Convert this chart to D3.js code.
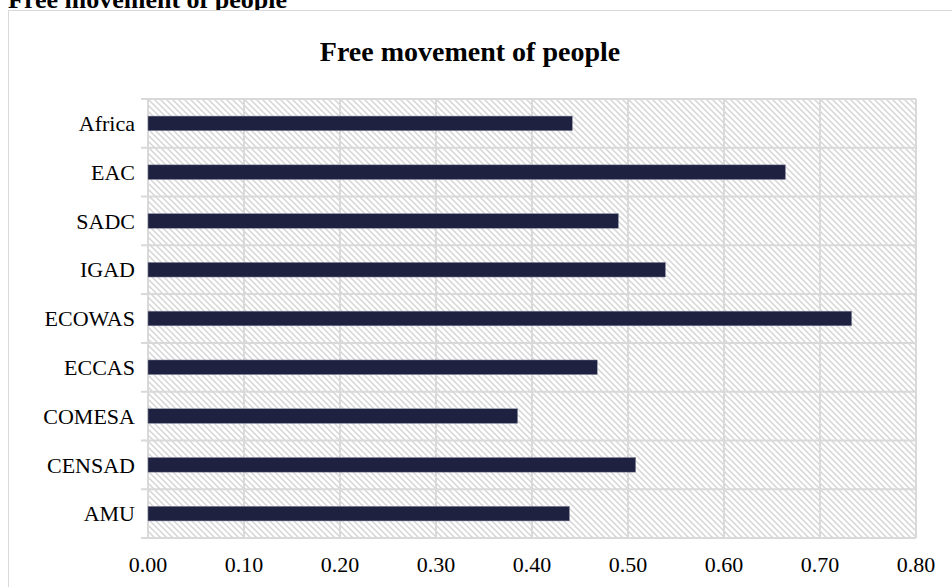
<!DOCTYPE html>
<html>
<head>
<meta charset="utf-8">
<script src="https://cdn.jsdelivr.net/npm/d3@7"></script>
<style>
  body { margin: 0; background: #fff; }
  text { font-family: "Liberation Serif", "Times New Roman", serif; }
</style>
</head>
<body>
<div id="chart"></div>
<script>
// values (top to bottom)
const categories = ["Africa", "EAC", "SADC", "IGAD", "ECOWAS", "ECCAS", "COMESA", "CENSAD", "AMU"];
const values = [0.442, 0.664, 0.490, 0.539, 0.733, 0.468, 0.385, 0.508, 0.439];
const xTicks = [0, 0.1, 0.2, 0.3, 0.4, 0.5, 0.6, 0.7, 0.8];

const W = 952, H = 587;
const margin = { top: 99, right: 36, bottom: 49, left: 148 },
    width = W - margin.left - margin.right,
    height = H - margin.top - margin.bottom;

const root = d3.select("#chart").append("svg")
    .attr("width", W)
    .attr("height", H);

// hatch pattern for the plot area
const defs = root.append("defs");
const pat = defs.append("pattern")
    .attr("id", "hatch")
    .attr("patternUnits", "userSpaceOnUse")
    .attr("width", 6).attr("height", 6);
pat.append("rect").attr("width", 6).attr("height", 6).attr("fill", "#fff");
pat.append("path")
    .attr("d", "M-1,-1 L7,7 M-1,5 L1,7 M5,-1 L7,1")
    .attr("stroke", "#d4d4d4")
    .attr("stroke-width", 1.4);

// cropped heading above chart
root.append("text")
    .attr("x", 8).attr("y", 8)
    .attr("font-size", "26px")
    .attr("font-weight", "bold")
    .text("Free movement of people");

// chart border
root.append("rect")
    .attr("x", 8.5).attr("y", 10.5)
    .attr("width", W).attr("height", H)
    .attr("fill", "#fff")
    .attr("stroke", "#d9d9d9")
    .attr("stroke-width", 1);

// chart title
root.append("text")
    .attr("x", 470).attr("y", 61)
    .attr("text-anchor", "middle")
    .attr("font-size", "28px")
    .attr("font-weight", "bold")
    .text("Free movement of people");

const svg = root.append("g")
    .attr("transform", `translate(${margin.left},${margin.top})`);

const x = d3.scaleLinear()
    .domain([0, 0.8])
    .range([0, width]);

const y = d3.scaleBand()
    .domain(categories)
    .range([0, height])
    .padding(0);

// plot background
svg.append("rect")
    .attr("width", width).attr("height", height)
    .attr("fill", "url(#hatch)");

// vertical gridlines
svg.append("g")
    .selectAll("line")
    .data(xTicks)
    .join("line")
    .attr("x1", d => x(d)).attr("x2", d => x(d))
    .attr("y1", 0).attr("y2", height)
    .attr("stroke", "#d9d9d9")
    .attr("stroke-width", 2);

// horizontal category boundaries with outside ticks
const bounds = categories.map(c => y(c)).concat([height]);
svg.append("g")
    .selectAll("line")
    .data(bounds)
    .join("line")
    .attr("x1", -7).attr("x2", width)
    .attr("y1", d => d).attr("y2", d => d)
    .attr("stroke", "#d9d9d9")
    .attr("stroke-width", 2);

// bars
const barH = y.bandwidth() * 0.3;
svg.append("g")
    .selectAll("rect")
    .data(categories.map((c, i) => ({ cat: c, value: values[i] })))
    .join("rect")
    .attr("x", 0)
    .attr("y", d => y(d.cat) + (y.bandwidth() - barH) / 2)
    .attr("width", d => x(d.value))
    .attr("height", barH)
    .attr("fill", "#1f2140")
    .attr("stroke", "#8c8fa3")
    .attr("stroke-width", 0.5);

// category labels
svg.append("g")
    .selectAll("text")
    .data(categories)
    .join("text")
    .attr("x", -13)
    .attr("y", d => y(d) + y.bandwidth() / 2)
    .attr("dy", "0.35em")
    .attr("text-anchor", "end")
    .attr("font-size", "22px")
    .attr("fill", "#000")
    .text(d => d);

// x tick labels
svg.append("g")
    .selectAll("text")
    .data(xTicks)
    .join("text")
    .attr("x", d => x(d))
    .attr("y", height + 34)
    .attr("text-anchor", "middle")
    .attr("font-size", "22px")
    .attr("fill", "#000")
    .text(d => d3.format(".2f")(d));
</script>
</body>
</html>
